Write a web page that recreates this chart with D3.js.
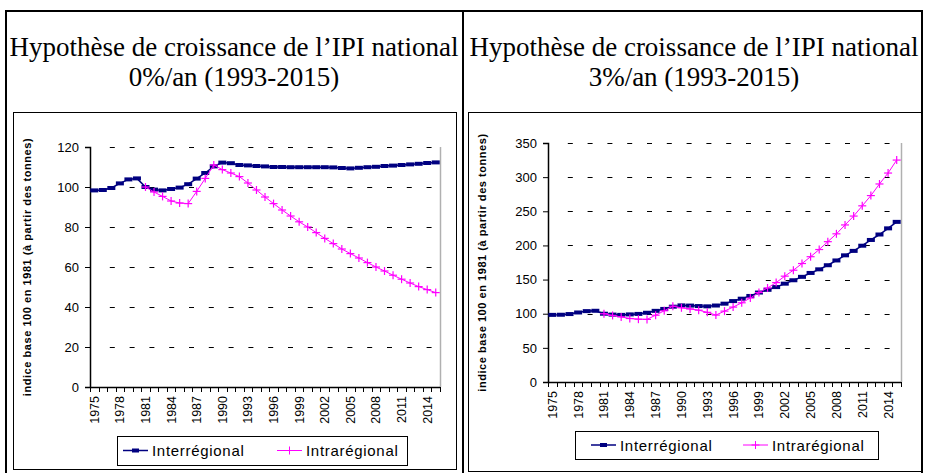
<!DOCTYPE html>
<html lang="fr">
<head>
<meta charset="UTF-8">
<style>
  body { margin: 0; background: #fff; }
  svg { display: block; }
</style>
<script src="https://d3js.org/d3.v7.min.js"></script>
</head>
<body>
<svg id="chart" width="928" height="473" xmlns="http://www.w3.org/2000/svg"></svg>
<script>
// categories: one per year
const years = d3.range(1975, 2016);
const yearLabels = [1975, 1978, 1981, 1984, 1987, 1990, 1993, 1996, 1999, 2002, 2005, 2008, 2011, 2014];

// scenario 0%/an
const inter0 = [98.3, 98.5, 99.5, 101.8, 103.8, 104.3, 100, 98.7, 98.3, 99, 99.7, 101.4, 104.2, 107, 110.3, 112.2,
  111.9, 111, 110.8, 110.5, 110.3, 110, 110, 109.9, 109.9, 109.9, 109.9, 109.9, 109.8, 109.5, 109.3,
  109.6, 109.9, 110.1, 110.5, 110.7, 111, 111.3, 111.6, 112, 112.3];
const intra0 = [null, null, null, null, null, null, 100, 97.5, 95.3, 93, 92, 91.7, 97.8, 104.3, 111, 108.7,
  107, 105.2, 102, 98.5, 95, 91.7, 88.5, 85.5, 82.6, 80, 77.2, 74.3, 71.7, 69, 66.7,
  64.5, 62.2, 60, 58, 55.9, 53.9, 52, 50.2, 48.7, 47.2];

// scenario 3%/an
const inter3 = [98.3, 98.5, 99.5, 101.8, 103.8, 104.3, 100, 98.7, 98.3, 99, 99.7, 101.4, 104.2, 107, 110.3, 112.2,
  111.9, 111.2, 110.8, 112, 114.7, 118.5, 122, 126, 131, 135, 139, 144, 149, 154, 159.7,
  165, 171, 178, 185.5, 192, 199.6, 208, 216, 225, 234.5];
const intra3 = [null, null, null, null, null, null, 100, 97.5, 95.3, 93, 92, 91.7, 97.8, 104.3, 111, 108.7,
  107, 105.2, 102, 98, 103.8, 109.7, 116, 123, 131, 137.7, 145.6, 155, 163.7, 173.5, 183.5,
  194, 205.5, 217, 230, 243, 258, 273, 290, 306, 325];

const titleLine1 = "Hypothèse de croissance de l\u2019IPI national";
const yTitle = "indice base 100 en 1981 (à partir des tonnes)";
const seriesNames = ["Interrégional", "Intrarégional"];

const navy = "#000080", magenta = "#ff00ff";
const svg = d3.select("#chart");
svg.append("rect").attr("width", 928).attr("height", 473).attr("fill", "#fff");

// table frame
const table = svg.append("g").attr("stroke", "#000").attr("stroke-width", 2);
table.append("line").attr("x1", 5).attr("x2", 923).attr("y1", 11).attr("y2", 11);
table.append("line").attr("x1", 6).attr("x2", 6).attr("y1", 10).attr("y2", 473);
table.append("line").attr("x1", 463).attr("x2", 463).attr("y1", 10).attr("y2", 473);
table.append("line").attr("x1", 922).attr("x2", 922).attr("y1", 10).attr("y2", 473);

function drawPanel(cfg) {
  const g = svg.append("g");

  // title
  g.append("text").attr("x", cfg.cx).attr("y", 56).attr("text-anchor", "middle")
    .attr("font-family", "Liberation Serif, Times New Roman, serif").attr("font-size", 27)
    .text(titleLine1);
  g.append("text").attr("x", cfg.cx).attr("y", 86).attr("text-anchor", "middle")
    .attr("font-family", "Liberation Serif, Times New Roman, serif").attr("font-size", 27)
    .text(cfg.subtitle);

  // chart box
  g.append("rect").attr("x", cfg.box[0] + 0.5).attr("y", cfg.box[1] + 0.5)
    .attr("width", cfg.box[2]).attr("height", cfg.box[3])
    .attr("fill", "#fff").attr("stroke", "#000");

  const x = d3.scaleBand().domain(years).range([cfg.x0, cfg.x1]);
  const y = d3.scaleLinear().domain([0, cfg.ymax]).range([cfg.y1, cfg.y0]);
  const yTicks = d3.range(0, cfg.ymax + 1, cfg.step);

  // grid
  g.append("g").selectAll("line").data(yTicks.filter(d => d > 0)).join("line")
    .attr("x1", cfg.x0 + 10).attr("x2", cfg.x1)
    .attr("y1", d => Math.round(y(d)) + 0.5).attr("y2", d => Math.round(y(d)) + 0.5)
    .attr("stroke", "#000").attr("stroke-dasharray", "5,14.8").attr("stroke-dashoffset", 10);

  // right edge of plot area
  g.append("line").attr("x1", cfg.x1 + 0.5).attr("x2", cfg.x1 + 0.5)
    .attr("y1", cfg.y0).attr("y2", cfg.y1).attr("stroke", "#b0b0b0").attr("stroke-width", 1.5);

  // y axis
  const yAxis = g.append("g").attr("transform", `translate(${cfg.x0},0)`)
    .call(d3.axisLeft(y).tickValues(yTicks).tickSize(5).tickPadding(6));
  yAxis.select(".domain").attr("stroke", "#000").attr("stroke-width", 1.5);
  yAxis.selectAll("text").attr("font-family", "Liberation Sans, Arial, sans-serif")
    .attr("font-size", 13).attr("fill", "#000");

  // x axis: ticks between categories, labels every third year
  const xg = g.append("g");
  xg.append("line").attr("x1", cfg.x0).attr("x2", cfg.x1)
    .attr("y1", cfg.y1 + 0.5).attr("y2", cfg.y1 + 0.5).attr("stroke", "#000").attr("stroke-width", 1.5);
  xg.selectAll("line.tk").data(years.concat([null])).join("line").attr("class", "tk")
    .attr("x1", (d, i) => Math.round(cfg.x0 + i * x.step()) + 0.5)
    .attr("x2", (d, i) => Math.round(cfg.x0 + i * x.step()) + 0.5)
    .attr("y1", cfg.y1).attr("y2", cfg.y1 + 5).attr("stroke", "#000");
  xg.selectAll("text").data(yearLabels).join("text")
    .attr("transform", d => `translate(${x(d) + x.bandwidth() / 2 + 4.5},${cfg.y1 + 9}) rotate(-90)`)
    .attr("text-anchor", "end")
    .attr("font-family", "Liberation Sans, Arial, sans-serif").attr("font-size", 12.5)
    .text(d => d);

  // y title
  g.append("text")
    .attr("transform", `translate(${cfg.ytx},${(cfg.y0 + cfg.y1) / 2}) rotate(-90)`)
    .attr("text-anchor", "middle").attr("font-family", "Liberation Sans, Arial, sans-serif")
    .attr("font-size", 11).attr("font-weight", "bold").attr("letter-spacing", 0.55).text(yTitle);

  const cxOf = (d, i) => x(years[i]) + x.bandwidth() / 2;
  const line = d3.line().defined(d => d != null).x(cxOf).y(d => y(d));

  // interrégional
  g.append("path").datum(cfg.inter).attr("d", line)
    .attr("fill", "none").attr("stroke", navy).attr("stroke-width", 1.5);
  g.append("g").selectAll("rect").data(cfg.inter).join("rect")
    .attr("x", (d, i) => cxOf(d, i) - 4).attr("y", d => y(d) - 2)
    .attr("width", 8).attr("height", 4).attr("fill", navy);

  // intrarégional
  g.append("path").datum(cfg.intra).attr("d", line)
    .attr("fill", "none").attr("stroke", magenta).attr("stroke-width", 1);
  const plus = g.append("g").attr("stroke", magenta).attr("stroke-width", 1.2);
  cfg.intra.forEach((d, i) => {
    if (d == null) return;
    const px = cxOf(d, i), py = y(d);
    plus.append("line").attr("x1", px - 4).attr("x2", px + 4).attr("y1", py).attr("y2", py);
    plus.append("line").attr("x1", px).attr("x2", px).attr("y1", py - 4).attr("y2", py + 4);
  });

  // legend
  const [lx, ly, lw, lh] = cfg.legend;
  const lg = g.append("g");
  lg.append("rect").attr("x", lx + 0.5).attr("y", ly + 0.5).attr("width", lw).attr("height", lh)
    .attr("fill", "#fff").attr("stroke", "#000");
  const my = ly + lh / 2;
  seriesNames.forEach((name, k) => {
    const sx = lx + cfg.legendOff[k];
    const color = k === 0 ? navy : magenta;
    lg.append("line").attr("x1", sx).attr("x2", sx + 25).attr("y1", my).attr("y2", my)
      .attr("stroke", color).attr("stroke-width", k === 0 ? 1.5 : 1);
    if (k === 0) {
      lg.append("rect").attr("x", sx + 9).attr("y", my - 2).attr("width", 7).attr("height", 4).attr("fill", navy);
    } else {
      lg.append("line").attr("x1", sx + 8.5).attr("x2", sx + 16.5).attr("y1", my).attr("y2", my).attr("stroke", magenta);
      lg.append("line").attr("x1", sx + 12.5).attr("x2", sx + 12.5).attr("y1", my - 4).attr("y2", my + 4).attr("stroke", magenta);
    }
    lg.append("text").attr("x", sx + 29).attr("y", my + 5.5)
      .attr("font-family", "Liberation Sans, Arial, sans-serif").attr("font-size", 15)
      .attr("letter-spacing", 0.7).text(name);
  });
}

drawPanel({
  subtitle: "0%/an (1993-2015)", cx: 234,
  box: [13, 112, 443, 357],
  x0: 90, x1: 440, y0: 147, y1: 387, ymax: 120, step: 20, ytx: 31,
  inter: inter0, intra: intra0,
  legend: [117, 436, 290, 29], legendOff: [6, 160]
});

drawPanel({
  subtitle: "3%/an (1993-2015)", cx: 694,
  box: [468, 112, 453, 359],
  x0: 548, x1: 901, y0: 143, y1: 382, ymax: 350, step: 50, ytx: 486,
  inter: inter3, intra: intra3,
  legend: [575, 431, 303, 28], legendOff: [16, 168]
});
</script>
</body>
</html>
